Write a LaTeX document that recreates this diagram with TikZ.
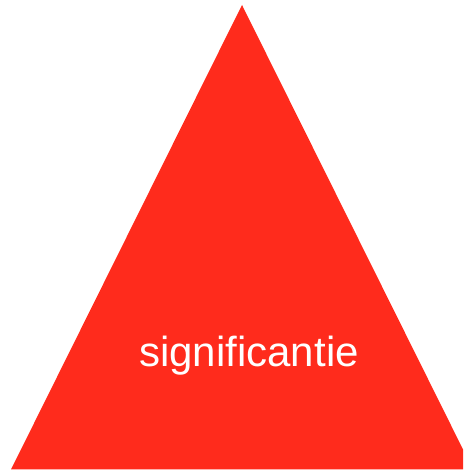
\documentclass[tikz,border=0pt]{standalone}
\usepackage{fontspec}
\setmainfont{Liberation Sans}
\usepackage{xcolor}
\usepackage{tikz}
\usetikzlibrary{positioning, calc}

\definecolor{sigred}{RGB}{255,43,28}

\begin{document}
\begin{tikzpicture}[
    x=1pt, y=1pt,
    pyramid/.style={
        fill=sigred,
        draw=none
    },
    label/.style={
        text=white,
        font=\fontsize{42}{50}\selectfont,
        anchor=base,
        inner sep=0pt
    }
]

\useasboundingbox (0,0) rectangle (463,471);
\clip (0,0) rectangle (463,471);

% The triangle
\coordinate (top) at (242,466);
\coordinate (left) at (11,1.5);
\coordinate (right) at (473,1.5);
\fill[pyramid] (top) -- (left) -- (right) -- cycle;

\node[label] (sig) at (249,104) {significantie};

\end{tikzpicture}
\end{document}
